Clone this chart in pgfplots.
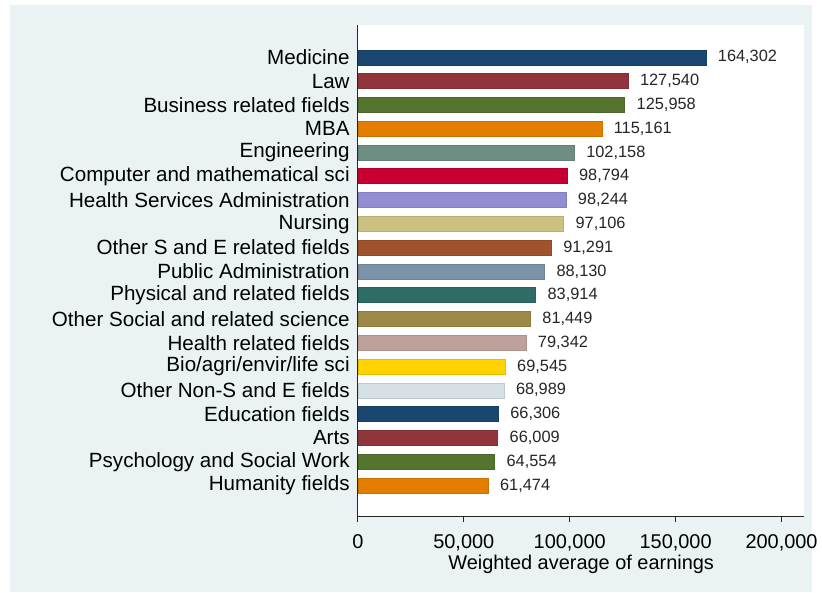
\documentclass[border=0pt]{standalone}
\usepackage{pgfplots}
\pgfplotsset{compat=1.18}
\usepackage{fontspec}
\setmainfont{Liberation Sans}
\definecolor{bg}{RGB}{234,242,243}
\definecolor{c1}{RGB}{26,71,111}
\definecolor{c2}{RGB}{144,53,59}
\definecolor{c3}{RGB}{85,117,47}
\definecolor{c4}{RGB}{227,126,0}
\definecolor{c5}{RGB}{110,142,132}
\definecolor{c6}{RGB}{200,0,50}
\definecolor{c7}{RGB}{147,141,210}
\definecolor{c8}{RGB}{202,194,126}
\definecolor{c9}{RGB}{160,82,45}
\definecolor{c10}{RGB}{123,146,168}
\definecolor{c11}{RGB}{45,109,102}
\definecolor{c12}{RGB}{156,136,71}
\definecolor{c13}{RGB}{191,161,156}
\definecolor{c14}{RGB}{255,210,0}
\definecolor{c15}{RGB}{214,225,230}
\begin{document}
\begin{tikzpicture}
\fill[white] (0pt,0pt) rectangle (616.5pt,445.5pt);
\fill[bg] (7.5pt,0pt) rectangle (611.25pt,441.75pt);
\fill[white] (269.25pt,57pt) rectangle (605.25pt,426.75pt);
\begin{axis}[
  at={(269.25pt,57pt)}, anchor=south west,
  scale only axis, width=336pt, height=369.75pt,
  xbar, bar width=0.63, bar shift=0pt,
  xmin=0, xmax=210824,
  ymin=-1.36, ymax=19.30, y dir=reverse,
  axis x line*=bottom, axis y line*=left,
  axis line style={black!85, line width=0.8pt},
  xtick={0,50000,100000,150000,200000},
  scaled x ticks=false,
  xticklabel style={/pgf/number format/fixed,/pgf/number format/1000 sep={,}, font=\fontsize{15}{17}\selectfont, yshift=-6pt},
  /pgf/number format/assume math mode=true,
  xtick align=outside, major tick length=4.5pt,
  xtick style={black!85, line width=0.8pt},
  ytick={0,...,18},
  ytick style={draw=none},
  yticklabel style={font=\fontsize{15.5}{17}\selectfont, inner sep=0pt, xshift=-1.5pt},
  yticklabels={Medicine,Law,Business related fields,MBA,Engineering,Computer and mathematical sci,Health Services Administration,Nursing,Other S and E related fields,Public Administration,Physical and related fields,Other Social and related science,Health related fields,Bio/agri/envir/life sci,Other Non-S and E fields,Education fields,Arts,Psychology and Social Work,Humanity fields},
  xlabel={Weighted average of earnings},
  xlabel style={font=\fontsize{15}{17}\selectfont, yshift=4.5pt},
  nodes near coords={\pgfmathprintnumber[fixed,precision=0,1000 sep={,}]{\pgfplotspointmeta}},
  every node near coord/.append style={font=\fontsize{12.3}{14}\selectfont, black!85, xshift=5.5pt},
  clip=false,
]
\addplot[fill=c1, draw=c1!90!black] coordinates {(164302,0)};
\addplot[fill=c2, draw=c2!90!black] coordinates {(127540,1)};
\addplot[fill=c3, draw=c3!90!black] coordinates {(125958,2)};
\addplot[fill=c4, draw=c4!90!black] coordinates {(115161,3)};
\addplot[fill=c5, draw=c5!90!black] coordinates {(102158,4)};
\addplot[fill=c6, draw=c6!90!black] coordinates {(98794,5)};
\addplot[fill=c7, draw=c7!90!black] coordinates {(98244,6)};
\addplot[fill=c8, draw=c8!90!black] coordinates {(97106,7)};
\addplot[fill=c9, draw=c9!90!black] coordinates {(91291,8)};
\addplot[fill=c10, draw=c10!90!black] coordinates {(88130,9)};
\addplot[fill=c11, draw=c11!90!black] coordinates {(83914,10)};
\addplot[fill=c12, draw=c12!90!black] coordinates {(81449,11)};
\addplot[fill=c13, draw=c13!90!black] coordinates {(79342,12)};
\addplot[fill=c14, draw=c14!90!black] coordinates {(69545,13)};
\addplot[fill=c15, draw=c15!90!black] coordinates {(68989,14)};
\addplot[fill=c1, draw=c1!90!black] coordinates {(66306,15)};
\addplot[fill=c2, draw=c2!90!black] coordinates {(66009,16)};
\addplot[fill=c3, draw=c3!90!black] coordinates {(64554,17)};
\addplot[fill=c4, draw=c4!90!black] coordinates {(61474,18)};
\end{axis}
\end{tikzpicture}
\end{document}
